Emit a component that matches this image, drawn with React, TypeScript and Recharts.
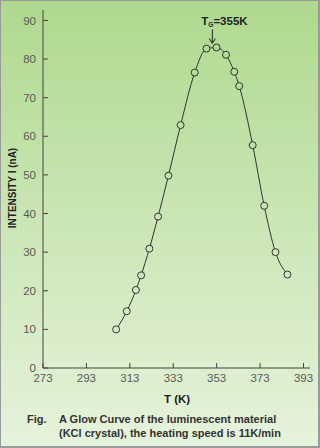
import { LineChart, Line, XAxis, YAxis, ReferenceDot } from 'recharts';

// temperature (K) and glow intensity (nA)
const temps = [306.7, 311.6, 315.8, 318.2, 322.0, 326.0, 330.8, 336.4, 342.9, 348.3, 352.9, 357.3, 361.1, 363.4, 369.6, 374.9, 380.1, 385.6];
const intensity = [10.0, 14.7, 20.2, 24.0, 30.9, 39.2, 49.8, 62.9, 76.5, 82.7, 83.0, 81.1, 76.7, 73.0, 57.7, 42.0, 30.0, 24.2];
const xTicks = [273, 293, 313, 333, 353, 373, 393];
const yTicks = [0, 10, 20, 30, 40, 50, 60, 70, 80, 90];
const peakT = 351;
const peakI = 83;

const data = temps.map((t, i) => ({ t, v: intensity[i] }));

const FONT = '"Liberation Sans", Arial, sans-serif';
const W = 320;
const H = 448;

// background gradient, used also to fill the hollow markers
function bgAt(y: number) {
  const top = [175, 217, 142];
  const bot = [230, 243, 220];
  const k = Math.max(0, Math.min(1, y / H));
  const c = top.map((a, i) => Math.round(a + (bot[i] - a) * k));
  return `rgb(${c[0]},${c[1]},${c[2]})`;
}

const HollowDot = (props: any) => {
  const { cx, cy, index } = props;
  if (cx == null || cy == null) return null;
  return <circle key={index} cx={cx} cy={cy} r={3.5} fill={bgAt(cy)} stroke="#333" strokeWidth={1} />;
};

const TgMark = (props: any) => {
  const { cx, cy } = props;
  if (cx == null || cy == null) return null;
  return (
    <g>
      <text x={cx - 11} y={cy - 22} fontFamily={FONT} fontWeight="bold" fontSize={11.5} fill="#222">
        T<tspan fontSize={6.5} dy={2}>G</tspan><tspan dy={-2}>=355K</tspan>
      </text>
      <line x1={cx} y1={cy - 18} x2={cx} y2={cy - 5} stroke="#222" strokeWidth={1} />
      <path d={`M${cx - 3},${cy - 9} L${cx},${cy - 4} L${cx + 3},${cy - 9}`} fill="none" stroke="#222" strokeWidth={1} />
    </g>
  );
};

const YTitle = () => (
  <text
    x={12}
    y={188}
    transform="rotate(-90 12 188)"
    textAnchor="middle"
    dominantBaseline="central"
    fontFamily={FONT}
    fontWeight="bold"
    fontSize={10}
    fill="#222"
  >
    INTENSITY I (nA)
  </text>
);

const XTitle = () => (
  <text x={177} y={403} textAnchor="middle" fontFamily={FONT} fontWeight="bold" fontSize={11.5} fill="#222">
    T (K)
  </text>
);

export default function App() {
  return (
    <div
      style={{
        position: 'fixed',
        left: 0,
        top: 0,
        width: W,
        height: H,
        boxSizing: 'border-box',
        border: '1px solid #9a9a9a',
        borderRightWidth: 2,
        borderBottomWidth: 2,
        background: `linear-gradient(to bottom, ${bgAt(0)}, ${bgAt(H)})`,
        fontFamily: FONT,
      }}
    >
      <style>{'body{margin:0}'}</style>
      <div style={{ position: 'absolute', left: -1, top: -1 }}>
        <LineChart width={W} height={H} data={data} margin={{ top: 10, right: 10, bottom: 60, left: 0 }}>
          <XAxis
            dataKey="t"
            type="number"
            domain={[273, 396]}
            ticks={xTicks}
            height={20}
            axisLine={{ stroke: '#444' }}
            tickLine={{ stroke: '#444' }}
            tickSize={-5}
            tick={{ fill: '#5a5a5a', fontSize: 11.5, fontFamily: FONT, dy: 9 }}
            label={<XTitle />}
          />
          <YAxis
            type="number"
            domain={[0, 92.7]}
            ticks={yTicks}
            width={43}
            axisLine={{ stroke: '#444' }}
            tickLine={{ stroke: '#444' }}
            tickSize={-5}
            tick={{ fill: '#5a5a5a', fontSize: 11.5, fontFamily: FONT, dx: -10 }}
            label={<YTitle />}
          />
          <Line
            type="monotone"
            dataKey="v"
            stroke="#333"
            strokeWidth={1}
            dot={<HollowDot />}
            activeDot={false}
            isAnimationActive={false}
          />
          <ReferenceDot x={peakT} y={peakI} r={0} shape={<TgMark />} />
        </LineChart>
      </div>
      <div
        style={{
          position: 'absolute',
          left: 26,
          top: 411,
          fontSize: 11,
          fontWeight: 'bold',
          color: '#333',
          lineHeight: '14px',
          whiteSpace: 'nowrap',
        }}
      >
        <div>
          <span style={{ display: 'inline-block', width: 32 }}>Fig.</span>A Glow Curve of the luminescent material
        </div>
        <div style={{ paddingLeft: 32 }}>(KCl crystal), the heating speed is 11K/min</div>
      </div>
    </div>
  );
}
